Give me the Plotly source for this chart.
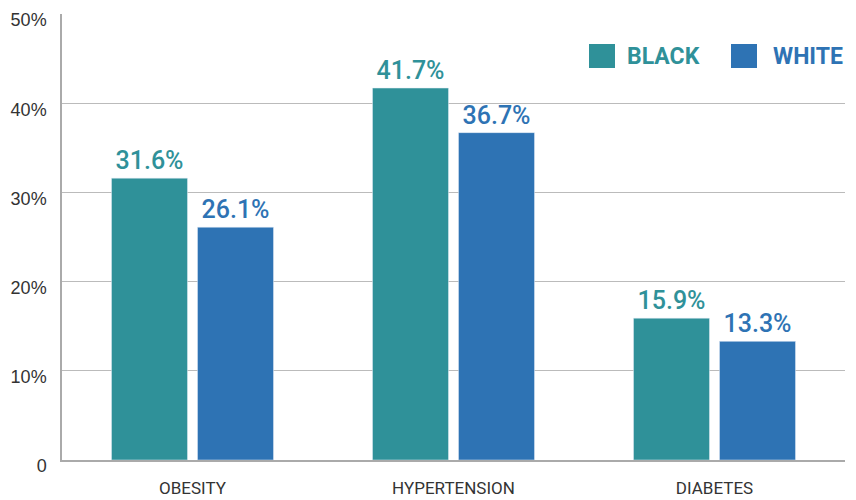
import plotly.graph_objects as go

categories = ["OBESITY", "HYPERTENSION", "DIABETES"]
black_values = [31.6, 41.7, 15.9]
white_values = [26.1, 36.7, 13.3]
series_names = ["BLACK", "WHITE"]
tick_values = [0, 10, 20, 30, 40, 50]
tick_labels = ["0", "10%", "20%", "30%", "40%", "50%"]

TEAL = "#2f9199"
BLUE = "#2e73b4"

fig = go.Figure()
for name, vals, col in [(series_names[0], black_values, TEAL), (series_names[1], white_values, BLUE)]:
    fig.add_trace(go.Bar(
        x=categories, y=vals, name=name, marker_color=col,
        text=[f"{v:.1f}%" for v in vals], textposition="outside",
        textfont=dict(family="Roboto, Liberation Sans, sans-serif", size=25, color=col, weight=500),
        cliponaxis=False, showlegend=False,
    ))

fig.update_layout(
    width=856, height=500,
    margin=dict(l=62, r=11, t=14, b=40, autoexpand=False),
    plot_bgcolor="white", paper_bgcolor="white",
    barmode="group", bargap=0.341, bargroupgap=0.116,
    font=dict(family="Roboto, sans-serif", color="#333333"),
    xaxis=dict(showline=True, linecolor="#aaaaaa", linewidth=2, ticks="", automargin=False,
               ticklabelstandoff=12,
               tickfont=dict(family="Roboto, sans-serif", size=17, color="#333333")),
    yaxis=dict(range=[0, 50], tickvals=tick_values, ticktext=tick_labels, automargin=False,
               showgrid=True, gridcolor="#bbbbbb", gridwidth=1,
               showline=True, linecolor="#aaaaaa", linewidth=1.5, zeroline=False,
               ticklabelshift=6,
               tickfont=dict(family="Liberation Sans, Arial, sans-serif", size=18, color="#333333"),
               ticks="outside", ticklen=10, tickcolor="white"),
)

# custom legend
legend_items = [(series_names[0], TEAL, 589, 628), (series_names[1], BLUE, 731, 774)]
for name, col, sx, tx in legend_items:
    fig.add_shape(type="rect", xref="paper", yref="paper",
                  x0=(sx - 62) / 783, x1=(sx + 26 - 62) / 783,
                  y0=(460 - 68) / 446, y1=(460 - 44) / 446,
                  fillcolor=col, line_width=0)
    fig.add_annotation(xref="paper", yref="paper", x=(tx - 62) / 783, y=(460 - 56) / 446,
                       text=f"<b>{name}</b>", showarrow=False, xanchor="left", yanchor="middle",
                       xshift=-3,
                       font=dict(family="Roboto, sans-serif", size=23, color=col))

fig.write_html("out.html", config={"displayModeBar": False},
               post_script="document.body.style.margin='0';document.body.style.overflow='hidden';")
